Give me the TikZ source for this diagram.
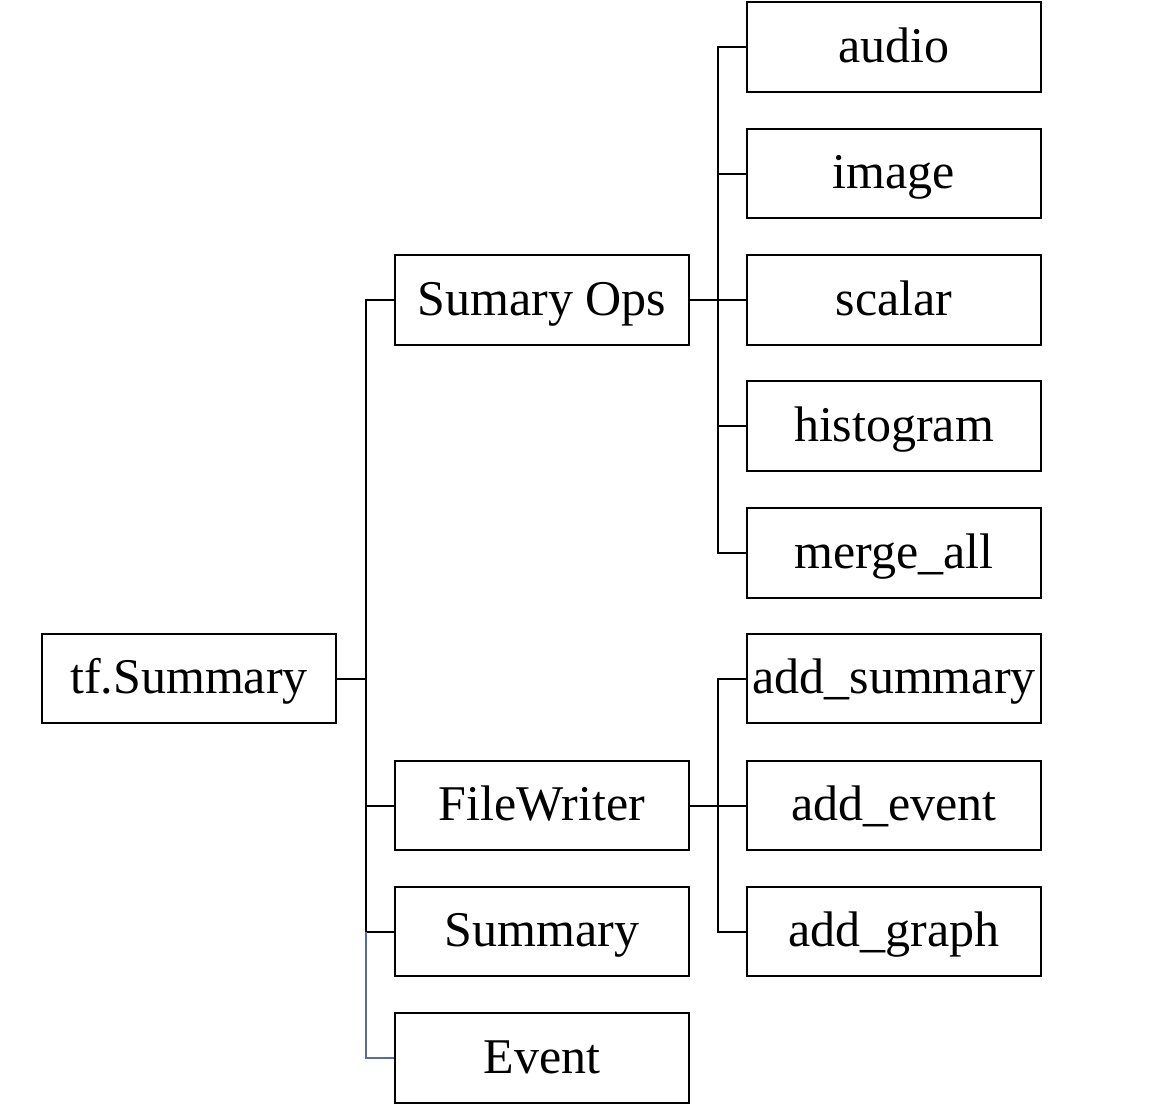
\documentclass[tikz,border=0pt]{standalone}
\usepackage{fontspec}
\setmainfont{Liberation Serif}
\begin{document}
\begin{tikzpicture}[x=0.75pt,y=-0.75pt,
  box/.style={draw=black,line width=1.6pt,minimum width=220.5pt,minimum height=67pt,
    inner sep=0pt,text height=30pt,text depth=7.5pt,font=\fontsize{37.5}{40}\selectfont},
  conn/.style={draw=black,line width=1.5pt},
  connb/.style={draw=blueline,line width=1.5pt}]
\definecolor{blueline}{HTML}{5B6B9B}
\useasboundingbox (0,0) rectangle (1170,1114);
\node[box] (tf) at (189,678.5) {tf.Summary};
\node[box] (ops) at (542,300) {Sumary Ops};
\node[box] (fw) at (542,805.5) {FileWriter};
\node[box] (sum) at (542,931.5) {Summary};
\node[box] (ev) at (542,1058) {Event};
\node[box] (audio) at (894,47) {audio};
\node[box] (image) at (894,173.5) {image};
\node[box] (scalar) at (894,300) {scalar};
\node[box] (hist) at (894,426) {histogram};
\node[box] (merge) at (894,553) {merge\_all};
\node[box] (adds) at (894,678.5) {add\_summary};
\node[box] (adde) at (894,805.5) {add\_event};
\node[box] (addg) at (894,931.5) {add\_graph};
\coordinate (j1) at (366,678.5);
\coordinate (j2) at (718,300);
\coordinate (j3) at (718,805.5);
\coordinate (j1s) at (j1 |- sum.west);
\draw[conn] (tf.east) -- (j1);
\draw[conn] (j1) |- (ops.west);
\draw[conn] (j1) |- (fw.west);
\draw[conn] (j1) |- (sum.west);
\draw[connb] (j1s) |- (ev.west);
\draw[conn] (ops.east) -- (j2);
\foreach \n in {audio,image,scalar,hist,merge} \draw[conn] (j2) |- (\n.west);
\draw[conn] (fw.east) -- (j3);
\foreach \n in {adds,adde,addg} \draw[conn] (j3) |- (\n.west);
\end{tikzpicture}
\end{document}
